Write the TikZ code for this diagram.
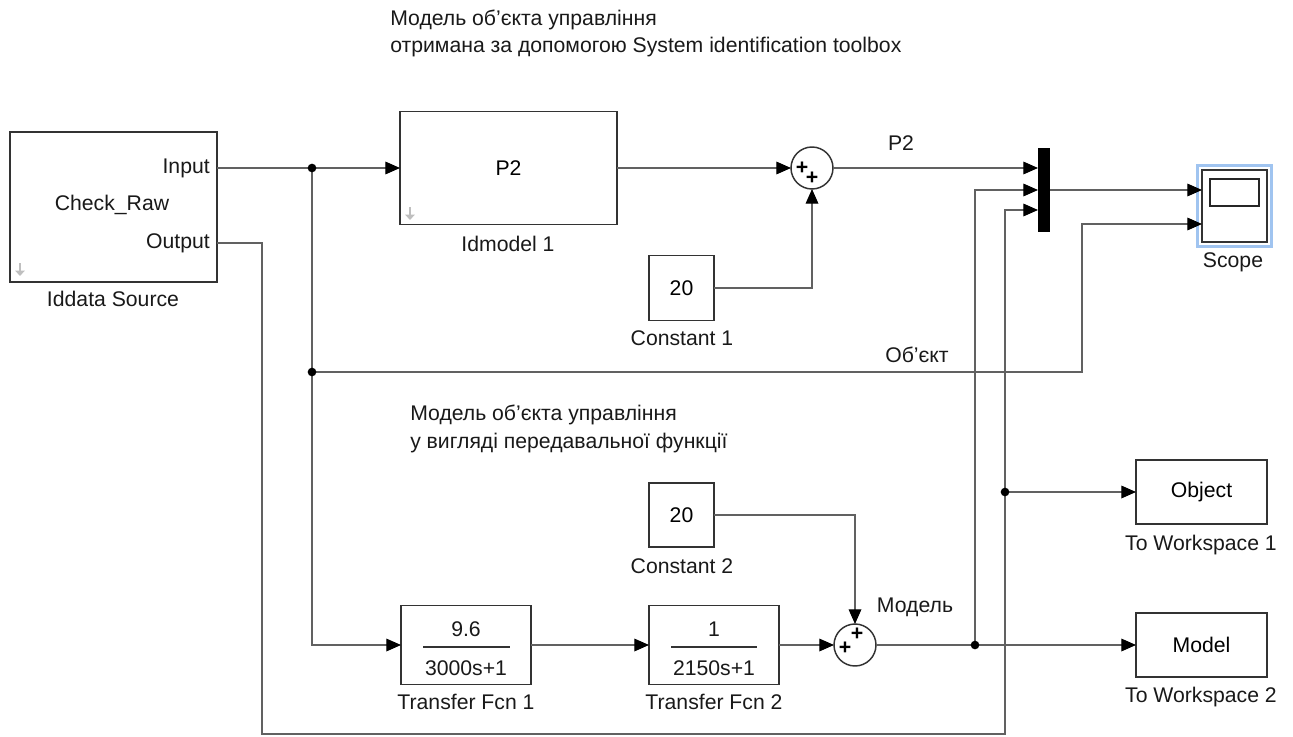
\documentclass[tikz,border=0pt]{standalone}
\usepackage{fontspec}
\setmainfont{Liberation Sans}
\usetikzlibrary{arrows.meta}
\definecolor{hlblue}{RGB}{160,196,240}
\begin{document}
\begin{tikzpicture}[x=0.75pt,y=-0.75pt,
  font=\fontsize{15.9}{19}\selectfont,
  block/.style={draw=black!80, line width=1.1pt, fill=white, inner sep=0pt, outer sep=0pt},
  wire/.style={draw=black!62, line width=0.9pt},
  tip/.style={-{Triangle[length=11pt,width=9.5pt,color=black]}},
  lbl/.style={inner sep=0pt, text=black!90},
  dot/.style={circle, fill=black, inner sep=0pt, minimum size=6.5pt},
  sumblk/.style={circle, draw=black!80, line width=1.1pt, fill=white, inner sep=0pt, outer sep=0pt, minimum size=31.5pt},
  plus/.style={inner sep=0pt, font=\fontsize{16}{16}\selectfont\bfseries}]
\useasboundingbox (0,0) rectangle (1293,736);

% ---- blocks ----
\node[block, minimum width=155.25pt, minimum height=112.5pt] (src) at (113.5,207) {};
\node[lbl, anchor=east] (tin) at (210,168) {Input};
\node[lbl] (tcr) at (112,205) {Check\_Raw};
\node[lbl, anchor=east] (tout) at (210,243) {Output};
\node[lbl] (lsrc) at (113,299) {Iddata Source};
\draw[black!25, line width=2.2pt, -{Triangle[length=4pt,width=7pt]}] (20,263) -- (20,276);

\node[block, minimum width=162.75pt, minimum height=84.75pt] (idm) at (508.5,168) {P2};
\node[lbl] (lidm) at (508,244) {Idmodel 1};
\draw[black!25, line width=2.2pt, -{Triangle[length=4pt,width=7pt]}] (410,207) -- (410,220);

\node[block, minimum width=48.75pt, minimum height=48.75pt] (c1) at (681.5,288) {20};
\node[lbl] (lc1) at (682,338) {Constant 1};

\node[block, minimum width=48.75pt, minimum height=48pt] (c2) at (681.5,515) {20};
\node[lbl] (lc2) at (682,566) {Constant 2};

\node[block, minimum width=97.5pt, minimum height=59.25pt] (tf1) at (466,645) {};
\node[lbl] (n1) at (466,629) {9.6};
\node[lbl] (d1) at (466,668) {3000s+1};
\draw[black!80, line width=1.3pt] (423,647) -- (510,647);
\node[lbl] (ltf1) at (466,702) {Transfer Fcn 1};

\node[block, minimum width=97.5pt, minimum height=59.25pt] (tf2) at (714,645) {};
\node[lbl] (n2) at (714,629) {1};
\node[lbl] (d2) at (714,668) {2150s+1};
\draw[black!80, line width=1.3pt] (671,647) -- (757,647);
\node[lbl] (ltf2) at (714,702) {Transfer Fcn 2};

\node[sumblk] (sum1) at (812,168) {};
\node[plus] (p11) at (802,168) {+};
\node[plus] (p12) at (812,178) {+};

\node[sumblk] (sum2) at (855,645) {};
\node[plus] (p21) at (845,648) {+};
\node[plus] (p22) at (857,634) {+};

\node[fill=black, inner sep=0pt, minimum width=9pt, minimum height=63pt] (mux) at (1044,190) {};

\node[draw=hlblue, line width=2.2pt, inner sep=0pt, minimum width=56pt, minimum height=61pt] (scopehl) at (1234.5,206) {};
\node[block, minimum width=48.75pt, minimum height=54pt] (scope) at (1234.5,206) {};
\draw[black!85, line width=1.2pt] (1210,179) rectangle (1259,206);
\node[lbl] (lscope) at (1233,262) {Scope};

\node[block, minimum width=98.25pt, minimum height=48pt] (ws1) at (1201.5,492) {Object};
\node[lbl] (lws1) at (1201,545) {To Workspace 1};
\node[block, minimum width=98.25pt, minimum height=48pt] (ws2) at (1201.5,645) {Model};
\node[lbl] (lws2) at (1201,697) {To Workspace 2};

% ---- comments ----
\node[lbl, anchor=west] (cm1) at (390,20) {Модель об\symbol{39}єкта управління};
\node[lbl, anchor=west] (cm2) at (390,47) {отримана за допомогою System identification toolbox};
\node[lbl, anchor=west] (cm3) at (410,415) {Модель об\symbol{39}єкта управління};
\node[lbl, anchor=west] (cm4) at (410,443) {у вигляді передавальної функції};

% ---- signal labels ----
\node[lbl] (sP2) at (901,143) {P2};
\node[lbl] (sOb) at (917,355) {Об\symbol{39}єкт};
\node[lbl] (sMod) at (915,607) {Модель};

% ---- ports / junctions ----
\coordinate (inP) at (217,168);
\coordinate (outP) at (217,243);
\coordinate (j1) at (312,168);
\coordinate (j2) at (312,372);
\coordinate (ob) at (1082,372);
\coordinate (j3) at (975,645);
\coordinate (j4) at (1005,492);
\coordinate (b1) at (262,734);
\coordinate (b2) at (1005,734);
\coordinate (mi1) at (1038,168);
\coordinate (mi2) at (1038,190);
\coordinate (mi3) at (1038,210);
\coordinate (sc1) at (1202,190);
\coordinate (sc2) at (1202,224);

% ---- wires ----
\draw[wire, tip] (inP) -- (idm.west);
\draw[wire, tip] (j1) |- (tf1.west);
\draw[wire, tip] (j2) -- (ob) |- (sc2);
\draw[wire, tip] (idm.east) -- (sum1.west);
\draw[wire, tip] (c1.east) -| (sum1.south);
\draw[wire, tip] (sum1.east) -- (mi1);
\draw[wire, tip] (mux.east) -- (sc1);
\draw[wire, tip] (tf1.east) -- (tf2.west);
\draw[wire, tip] (tf2.east) -- (sum2.west);
\draw[wire, tip] (c2.east) -| (sum2.north);
\draw[wire, tip] (sum2.east) -- (ws2.west);
\draw[wire, tip] (j3) |- (mi2);
\draw[wire, tip] (outP) -| (b1) -- (b2) |- (mi3);
\draw[wire, tip] (j4) -- (ws1.west);

\node[dot] (d_j1) at (j1) {};
\node[dot] (d_j2) at (j2) {};
\node[dot] (d_j3) at (j3) {};
\node[dot] (d_j4) at (j4) {};
\end{tikzpicture}
\end{document}
